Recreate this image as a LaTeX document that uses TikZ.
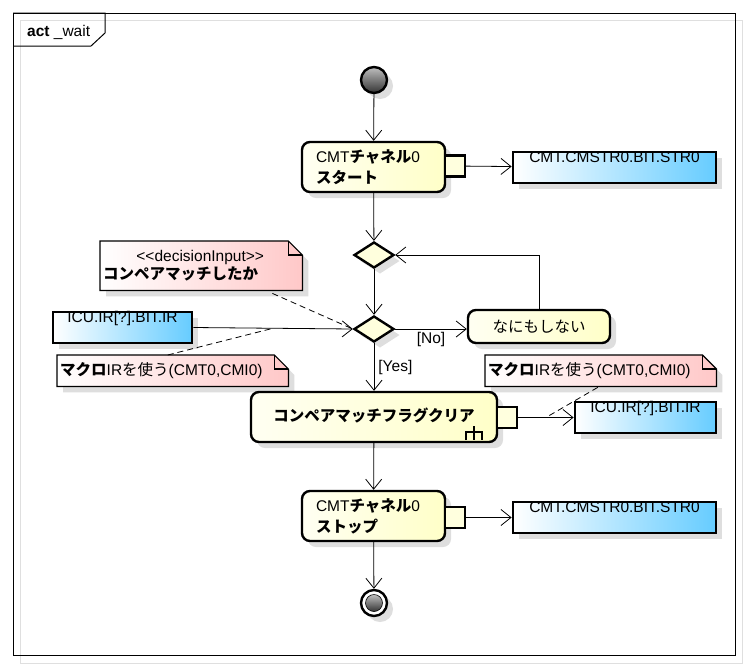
\documentclass[tikz,border=0pt]{standalone}
\usepackage{fontspec}
\setmainfont{Liberation Sans}
\newfontfamily\jp{Noto Sans CJK JP}
\usetikzlibrary{arrows.meta,shapes.geometric,shadows,calc,backgrounds}
\definecolor{actL}{RGB}{255,255,242}
\definecolor{actR}{RGB}{255,255,200}
\definecolor{objR}{RGB}{102,204,255}
\definecolor{noteR}{RGB}{255,200,200}
\definecolor{shad}{RGB}{222,222,222}
\definecolor{dia}{RGB}{255,255,221}
\newcommand\notedraw[1]{%
  \fill[shad] ($(#1.north west)+(6,6)$) -- ($(#1.north east)+(-8,6)$) -- ($(#1.north east)+(6,20)$) -- ($(#1.south east)+(6,6)$) -- ($(#1.south west)+(6,6)$) -- cycle;
  \path[draw, line width=1.2pt, left color=white, right color=noteR] (#1.north west) -- ($(#1.north east)+(-14,0)$) -- ($(#1.north east)+(0,14)$) -- (#1.south east) -- (#1.south west) -- cycle;
  \draw[line width=1.2pt] ($(#1.north east)+(-14,0)$) -- ($(#1.north east)+(-14,14)$) -- ($(#1.north east)+(0,14)$);
}
\begin{document}
\begin{tikzpicture}[x=1pt,y=-1pt, font=\fontsize{15.5}{21}\selectfont,
  sh/.style={drop shadow={shadow xshift=6pt,shadow yshift=-6pt,fill=shad,opacity=1}},
  action/.style={draw, line width=2.4pt, rounded corners=8pt, left color=actL, right color=actR, sh, inner sep=0pt},
  pinbox/.style={draw, line width=2.4pt, fill=actR!60, minimum width=20pt, minimum height=21pt, inner sep=0pt},
  obj/.style={draw, line width=2.8pt, left color=white, right color=objR, sh, inner xsep=0pt, inner ysep=0pt, text height=10pt, text depth=21pt, minimum height=31pt},
  dec/.style={diamond, draw, line width=2.4pt, fill=dia, minimum width=40pt, minimum height=26pt, inner sep=0pt, sh},
  notetext/.style={inner xsep=3pt, inner ysep=0pt, anchor=north west},
  flow/.style={-{Straight Barb[length=10pt,width=16pt]}, line width=0.8pt},
  anno/.style={line width=0.8pt, dash pattern=on 6pt off 4pt}
]
\useasboundingbox (0,0) rectangle (749,670);
% frame
\draw[gray!25, line width=1pt] (20,20) rectangle (742,663);
\draw[line width=1pt] (13,13) rectangle (735,655);
\draw[line width=1pt] (13,13) -- (105,13) -- (105,33) -- (91,46) -- (13,46);
\node[anchor=base west, inner sep=0pt] (title) at (27,36) {\textbf{act} \_wait};

% start
\node[circle, draw, line width=2.4pt, minimum size=26pt, inner sep=0pt, top color=black!25, bottom color=black!80, sh] (start) at (374,80) {};

% action 1
\node[action, minimum width=143pt, minimum height=50pt, text width=115pt, align=left] (a1) at (373.5,167)
  {CMT{\jp\bfseries チャネル}0\\{\jp\bfseries スタート}};
\node[pinbox] (p1) at (455,166) {};
\node[obj, minimum width=203pt] (o1) at (614.5,167.5) {CMT.CMSTR0.BIT.STR0};

% diamonds
\node[dec] (d1) at (374,255) {};
\node[dec] (d2) at (374,329) {};

% nothing
\node[action, minimum width=142pt, minimum height=33pt] (nothing) at (539,326.5) {\jp なにもしない};

% ICU left
\node[obj, minimum width=139pt] (icu1) at (122.5,327.5) {ICU.IR[?].BIT.IR};

% action 3
\node[action, minimum width=246pt, minimum height=50pt] (a3) at (374,417) {\raisebox{4pt}{\jp\bfseries コンペアマッチフラグクリア}};
\node[pinbox] (p3) at (507,417.5) {};
\node[obj, minimum width=141pt] (o3) at (645.5,417.5) {ICU.IR[?].BIT.IR};
\draw[line width=2.2pt] (474,426) -- (474,440) (466,440) -- (466,432) -- (482,432) -- (482,440);

% action 4
\node[action, minimum width=143pt, minimum height=50pt, text width=115pt, align=left] (a4) at (373.5,516)
  {CMT{\jp\bfseries チャネル}0\\{\jp\bfseries ストップ}};
\node[pinbox] (p4) at (455,517.5) {};
\node[obj, minimum width=203pt] (o4) at (614.5,517.5) {CMT.CMSTR0.BIT.STR0};

% end
\node[circle, draw, line width=2.4pt, fill=white, minimum size=26pt, inner sep=0pt, sh] (end) at (374,603) {};
\node[circle, draw, line width=0.6pt, minimum size=17pt, inner sep=0pt, top color=black!25, bottom color=black!80] (endin) at (end) {};

% notes
\node[notetext, minimum width=202pt, minimum height=49pt, text width=196pt, align=left] (n1) at (100,241)
  {\makebox[194pt]{{<}{<}decisionInput{>}{>}}\\[-3pt]{\jp\bfseries コンペアマッチしたか}};
\node[notetext, minimum width=231pt, minimum height=31pt, text width=225pt, align=left] (n2) at (57,355)
  {{\jp\bfseries マクロ}IR{\jp を使う}(CMT0,CMI0)};
\node[notetext, minimum width=231pt, minimum height=31pt, text width=225pt, align=left] (n3) at (485,355)
  {{\jp\bfseries マクロ}IR{\jp を使う}(CMT0,CMI0)};
\begin{scope}[on background layer]
  \notedraw{n1}
  \notedraw{n2}
  \notedraw{n3}
\end{scope}

% flows
\draw[flow] (start) -- (a1);
\draw[flow] (a1) -- (d1);
\draw[flow] (d1) -- (d2);
\draw[flow] (d2.east) -- (d2.east -| nothing.west) node[midway, below, inner sep=3pt] (nolab) {[No]};
\draw[flow] (nothing.north) |- (d1.east);
\draw[flow] (icu1.east) -- (d2.west);
\draw[flow] (d2) -- (a3) node[midway, right, inner sep=4pt] (yeslab) {[Yes]};
\draw[flow] (a3) -- (a4);
\draw[flow] (a4) -- (end);
\draw[flow] (p1) -- (o1);
\draw[flow] (p3) -- (o3);
\draw[flow] (p4) -- (o4);

% annotations
\coordinate (n1a) at ($(n1.south east)+(-30,3)$);
\coordinate (f1) at ($(icu1.east)!0.5!(d2.west)$);
\coordinate (n2a) at ($(n2.north)+(-5,0)$);
\coordinate (f3) at ($(p3.east)!0.5!(o3.west)$);
\coordinate (n3a) at ($(n3.south)+(-3,1)$);
\draw[anno] (n1a) -- (d2.west);
\draw[anno] (n2a) -- (f1);
\draw[anno] (n3a) -- (f3);
\end{tikzpicture}
\end{document}
